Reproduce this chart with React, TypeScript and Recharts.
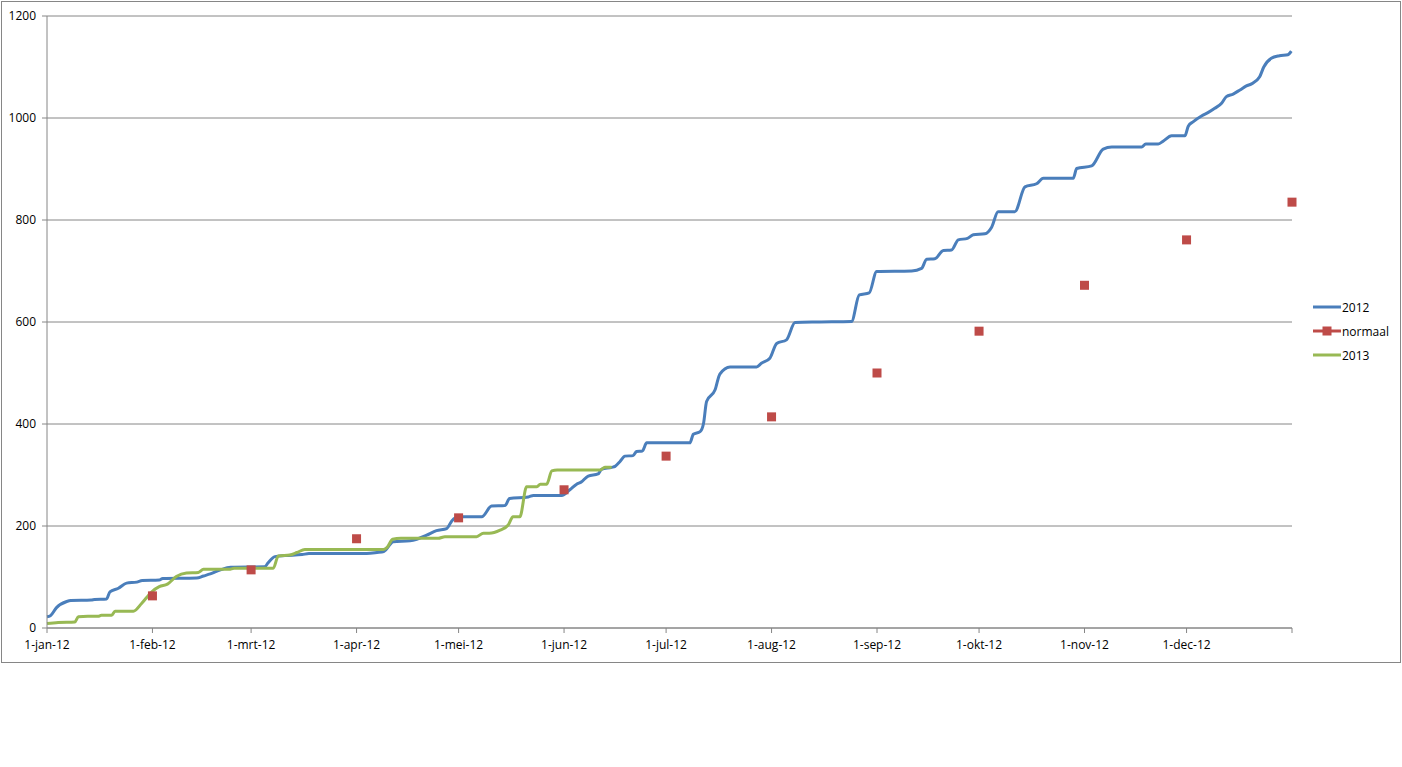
import React from "react";
import {
  ComposedChart,
  Line,
  Scatter,
  XAxis,
  YAxis,
  CartesianGrid,
} from "recharts";

// day-of-year (0 = 1 jan 2012) and cumulative totals
const days2012 = [
  0, 1, 2.8, 5.8, 7, 13, 14, 17.5, 18.5, 21, 23.4, 26.4, 28, 33, 34, 44, 46, 48,
  51, 54, 64, 65, 67, 70, 75, 77, 94, 97, 99, 101.8, 106.7, 108.7, 111.6, 114.5,
  117.5, 119, 121, 127.8, 130.7, 134.6, 136, 141.5, 143, 151.3, 153.7, 155.7, 157,
  159.1, 162, 163, 166, 167, 168.4, 169.9, 172.3, 173.3, 175, 176.3, 189, 190, 192,
  193, 193.9, 196.4, 197.8, 200.8, 208.6, 210, 212.5, 214.5, 217.4, 219.9, 227,
  236.5, 238.8, 241.7, 243.9, 254.2, 257.1, 258.6, 261, 263.5, 265.9, 267.9, 270.6,
  272.3, 275.7, 277.7, 279.6, 284.5, 287.5, 290.9, 292.9, 301.7, 302.7, 307.1,
  310.5, 313, 321.8, 323, 326.7, 328.2, 330.6, 334.5, 335.5, 337, 339.4, 341.4,
  343.3, 345.3, 346.7, 348.7, 350.7, 352.6, 354.1, 356.5, 357.7, 359.9, 362.3,
  364.8, 365.8,
];
const values2012 = [
  22, 24, 40, 52, 54, 55, 56, 57, 71, 78, 88, 90, 93, 94, 97, 98, 102, 106, 114,
  119, 120, 128, 140, 142, 144, 146, 146, 148, 150, 169, 171, 174, 182, 191, 195,
  210, 218, 218, 239, 240, 254, 257, 260, 260, 271, 282, 286, 298, 302, 311, 315,
  317, 326, 337, 338, 346, 347, 363, 363, 380, 385, 401, 444, 467, 498, 512, 512,
  519, 529, 558, 565, 599, 600, 601, 653, 657, 699, 700, 705, 723, 724, 740, 741,
  761, 764, 771, 773, 786, 816, 816, 865, 871, 882, 882, 901, 906, 939, 943, 943,
  949, 949, 955, 965, 965, 984, 993, 1004, 1011, 1019, 1029, 1042, 1047, 1055,
  1063, 1067, 1081, 1100, 1117, 1122, 1124, 1131,
];

const days2013 = [
  0, 3.3, 8.2, 9.2, 12, 15, 16, 19, 20, 25.4, 27.8, 30.8, 33, 35.4, 38, 41, 44.5,
  46, 53.5, 55, 66.5, 68, 71.4, 73.5, 75.8, 98.9, 100, 101.6, 104, 115, 117, 126.3,
  128.3, 130, 133.2, 135.6, 137, 139, 141, 144, 145, 146.9, 148.4, 150, 162.6, 164,
  166,
];
const values2013 = [
  9, 11, 12, 22, 23, 23, 25, 25, 33, 33, 48, 71, 81, 86, 101, 108, 109, 115, 115,
  117, 117, 141, 143, 148, 154, 154, 158, 174, 176, 176, 179, 179, 186, 186, 192,
  202, 218, 218, 277, 277, 282, 282, 308, 310, 310, 315, 315,
];

const normaalDays = [31, 60, 91, 121, 152, 182, 213, 244, 274, 305, 335, 366];
const normaalValues = [63, 114, 175, 216, 271, 337, 414, 500, 582, 672, 761, 835];

const monthTicks = [0, 31, 60, 91, 121, 152, 182, 213, 244, 274, 305, 335, 366];
const monthLabels = [
  "1-jan-12", "1-feb-12", "1-mrt-12", "1-apr-12", "1-mei-12", "1-jun-12",
  "1-jul-12", "1-aug-12", "1-sep-12", "1-okt-12", "1-nov-12", "1-dec-12", "",
];
const yTicks = [0, 200, 400, 600, 800, 1000, 1200];

const BLUE = "#4A7EBB";
const RED = "#BE4B48";
const GREEN = "#98B954";
const GRID = "#868686";
const FONT = "'Open Sans', 'Noto Sans', sans-serif";

const toPoints = (xs: number[], ys: number[]) =>
  xs.map((d, i) => ({ day: d, value: ys[i] }));

const data2012 = toPoints(days2012, values2012);
const data2013 = toPoints(days2013, values2013);
const dataNormaal = toPoints(normaalDays, normaalValues);

function SquareMarker(props: any) {
  const { cx, cy } = props;
  if (cx == null || cy == null) return null;
  return <rect x={cx - 4.5} y={cy - 4.5} width={9} height={9} fill={RED} />;
}

const legendItems = [
  { label: "2012", color: BLUE, marker: false },
  { label: "normaal", color: RED, marker: true },
  { label: "2013", color: GREEN, marker: false },
];

function ChartLegend() {
  return (
    <div style={{ position: "absolute", left: 1312, top: 295, fontFamily: FONT, fontSize: 12 }}>
      {legendItems.map((item) => (
        <div key={item.label} style={{ display: "flex", alignItems: "center", height: 24 }}>
          <svg width={30} height={12}>
            <line x1={1} y1={6} x2={29} y2={6} stroke={item.color} strokeWidth={3} />
            {item.marker && <rect x={10.5} y={1.5} width={9} height={9} fill={item.color} />}
          </svg>
          <span style={{ color: "#000" }}>{item.label}</span>
        </div>
      ))}
    </div>
  );
}

export default function App() {
  return (
    <div style={{ position: "absolute", left: 0, top: 0, width: 1402, height: 767, background: "#fff" }}>
      <div
        style={{
          position: "absolute",
          left: 1,
          top: 1,
          width: 1400,
          height: 662,
          boxSizing: "border-box",
          border: `1px solid ${GRID}`,
        }}
      />
      <div style={{ position: "absolute", left: 0, top: 0 }}>
        <ComposedChart
          width={1400}
          height={662}
          margin={{ top: 16, right: 108, left: 0, bottom: 0 }}
          style={{ fontFamily: FONT }}
        >
          <CartesianGrid vertical={false} stroke={GRID} strokeWidth={1} />
          <XAxis
            dataKey="day"
            type="number"
            domain={[0, 366]}
            ticks={monthTicks}
            tickFormatter={(v: number) => monthLabels[monthTicks.indexOf(v)] ?? ""}
            interval={0}
            height={34}
            axisLine={{ stroke: GRID }}
            tickLine={{ stroke: GRID }}
            tickSize={5}
            tickMargin={7}
            tick={{ fill: "#000", fontSize: 12 }}
          />
          <YAxis
            type="number"
            domain={[0, 1200]}
            ticks={yTicks}
            interval={0}
            width={47}
            axisLine={{ stroke: GRID }}
            tickLine={{ stroke: GRID }}
            tickSize={5}
            tickMargin={6}
            tick={{ fill: "#000", fontSize: 12 }}
          />
          <Line
            data={data2012}
            dataKey="value"
            type="monotone"
            stroke={BLUE}
            strokeWidth={3}
            dot={false}
            name="2012"
            isAnimationActive={false}
          />
          <Line
            data={data2013}
            dataKey="value"
            type="monotone"
            stroke={GREEN}
            strokeWidth={3}
            dot={false}
            name="2013"
            isAnimationActive={false}
          />
          <Scatter
            data={dataNormaal}
            dataKey="value"
            name="normaal"
            fill={RED}
            shape={<SquareMarker />}
            isAnimationActive={false}
          />
        </ComposedChart>
      </div>
      <ChartLegend />
    </div>
  );
}
